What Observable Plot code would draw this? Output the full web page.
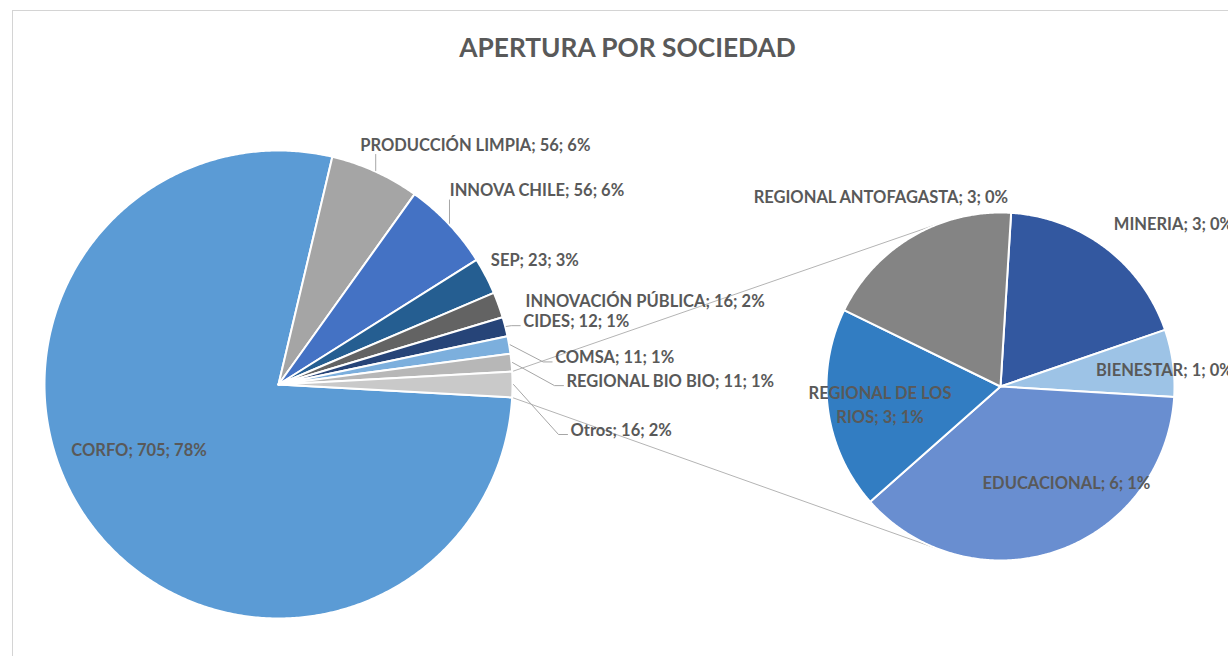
<!DOCTYPE html>
<html>
<head>
<meta charset="utf-8">
<script src="https://cdn.jsdelivr.net/npm/d3@7"></script>
<script src="https://cdn.jsdelivr.net/npm/@observablehq/plot@0.6"></script>
<style>
  html, body { margin: 0; padding: 0; background: #fff; overflow: hidden; width: 1228px; height: 656px; }
  #frame { position: absolute; left: 12px; top: 10px; width: 1400px; height: 800px;
           border-top: 1px solid #d4d4d4; border-left: 1px solid #d4d4d4; }
  #title { position: absolute; left: 12px; width: 1231px; top: 30px; text-align: center;
           font-family: Lato, "Open Sans", sans-serif; font-weight: bold; font-size: 26.3px;
           line-height: 34px; color: #595959; }
  #chart { position: absolute; left: 0; top: 80px; }
</style>
</head>
<body>
<div id="frame"></div>
<div id="title">APERTURA POR SOCIEDAD</div>
<div id="chart"></div>
<script>
// ---------- DATA ----------
const mainNames  = ["CORFO", "PRODUCCIÓN LIMPIA", "INNOVA CHILE", "SEP", "INNOVACIÓN PÚBLICA", "CIDES", "COMSA", "REGIONAL BIO BIO", "Otros"];
const mainValues = [705, 56, 56, 23, 16, 12, 11, 11, 16];
const mainPct    = [78, 6, 6, 3, 2, 1, 1, 1, 2];

const subNames  = ["MINERIA", "BIENESTAR", "EDUCACIONAL", "REGIONAL DE LOS RIOS", "REGIONAL ANTOFAGASTA"];
const subValues = [3, 1, 6, 3, 3];
const subPct    = [0, 0, 1, 1, 0];

// ---------- STYLES ----------
const mainColors = ["#5b9bd5", "#a5a5a5", "#4472c4", "#255e91", "#636363", "#264478", "#7cafdd", "#b7b7b7", "#c9c9c9"];
const subColors  = ["#3358a0", "#9dc3e6", "#698ed0", "#327dc2", "#848484"];

// ---------- LAYOUT ----------
const W = 1228, H = 576;
const MAIN = {cx: 278, cy: 304, r: 234};
const SUB  = {cx: 1000, cy: 306, r: 174, start: 3.5 * Math.PI / 180};

// label placement relative to slice mid-angle point (r = fraction of radius)
const mainLabelLayout = [
  {r: 0.6, dx: -27, dy: -18, anchor: "middle"},
  {r: 1, dx: -15, dy: -26, anchor: "start", leader: "v"},
  {r: 1, dx: 1, dy: -33, anchor: "start", leader: "v"},
  {r: 1, dx: 5, dy: -15, anchor: "start"},
  {r: 1, dx: 27, dy: -3, anchor: "start"},
  {r: 1, dx: 18, dy: -5, anchor: "start", leader: "h"},
  {r: 1, dx: 46, dy: 13, anchor: "start", leader: "h"},
  {r: 1, dx: 55, dy: 19, anchor: "start", leader: "h"},
  {r: 1, dx: 58, dy: 46, anchor: "start", leader: "h"}
];
const subLabelLayout = [
  {r: 1, dx: 8, dy: -23, anchor: "start"},
  {r: 1, dx: -77, dy: 8, anchor: "start"},
  {r: 0.6, dx: 32, dy: -1, anchor: "middle"},
  {r: 0.6, dx: -17, dy: 3, anchor: "middle", wrap: true},
  {r: 1, dx: -32, dy: -38, anchor: "middle"}
];

// ---------- GEOMETRY (computed from data) ----------
const polar = (c, r, a) => [c.cx + r * Math.sin(a), c.cy - r * Math.cos(a)];
const mainTotal = d3.sum(mainValues);
const otrosShare = mainValues[mainValues.length - 1] / mainTotal;
const mainStart = Math.PI / 2 + Math.PI * otrosShare;
const mainArcs = d3.pie().sort(null).startAngle(mainStart).endAngle(mainStart + 2 * Math.PI)(mainValues);
const subArcs  = d3.pie().sort(null).startAngle(SUB.start).endAngle(SUB.start + 2 * Math.PI)(subValues);

function slicePolys(arcs, names, c) {
  const rows = [];
  arcs.forEach((a, i) => {
    rows.push({slice: names[i], x: c.cx, y: c.cy});
    const n = Math.max(2, Math.ceil((a.endAngle - a.startAngle) / (Math.PI / 360)));
    for (let k = 0; k <= n; k++) {
      const t = a.startAngle + (a.endAngle - a.startAngle) * k / n;
      const [x, y] = polar(c, c.r, t);
      rows.push({slice: names[i], x, y});
    }
  });
  return rows;
}
const sliceRows = [...slicePolys(mainArcs, mainNames, MAIN), ...slicePolys(subArcs, subNames, SUB)];

const labels = [], leaders = [];
function buildLabels(arcs, names, values, pcts, layout, c) {
  arcs.forEach((a, i) => {
    const L = layout[i];
    const mid = (a.startAngle + a.endAngle) / 2;
    const [ex, ey] = polar(c, c.r * L.r, mid);
    const lx = ex + L.dx, ly = ey + L.dy;
    const name = L.wrap ? names[i].replace(/ (\S+)$/, "\n$1") : names[i];
    labels.push({x: lx, y: ly, text: `${name}; ${values[i]}; ${pcts[i]}%`, anchor: L.anchor, wrap: !!L.wrap});
    if (L.leader) {
      const [sx, sy] = polar(c, c.r + 1, mid);
      const id = names[i];
      if (L.leader === "v") {
        leaders.push({id, x: sx, y: sy}, {id, x: sx, y: ly + 9});
      } else {
        leaders.push({id, x: sx, y: sy}, {id, x: lx - 12, y: ly + 4}, {id, x: lx - 3, y: ly + 4});
      }
    }
  });
}
buildLabels(mainArcs, mainNames, mainValues, mainPct, mainLabelLayout, MAIN);
buildLabels(subArcs, subNames, subValues, subPct, subLabelLayout, SUB);

// connector lines: tangents from the "Otros" wedge corners to the secondary pie
const otrosArc = mainArcs[mainArcs.length - 1];
function tangent(p, c, sign) {
  const dx = p[0] - c.cx, dy = p[1] - c.cy;
  const d = Math.hypot(dx, dy);
  const base = Math.atan2(dy, dx);
  const t = base + sign * Math.acos(c.r / d);
  return [c.cx + c.r * Math.cos(t), c.cy + c.r * Math.sin(t)];
}
const pTop = polar(MAIN, MAIN.r, otrosArc.startAngle);
const pBot = polar(MAIN, MAIN.r, otrosArc.endAngle);
const tTop = tangent(pTop, SUB, 1);
const tBot = tangent(pBot, SUB, -1);
const connectors = [
  {id: "top", x: pTop[0], y: pTop[1]}, {id: "top", x: tTop[0], y: tTop[1]},
  {id: "bot", x: pBot[0], y: pBot[1]}, {id: "bot", x: tBot[0], y: tBot[1]}
];

const textStyle = {fill: "#595959", fontSize: 16.5, fontWeight: "bold", fontFamily: "Lato, 'Open Sans', sans-serif"};

const chart = Plot.plot({
  width: W, height: H, margin: 0,
  x: {domain: [0, W], range: [0, W], axis: null},
  y: {domain: [0, H], range: [0, H], axis: null},
  color: {domain: [...mainNames, ...subNames], range: [...mainColors, ...subColors]},
  style: {overflow: "visible", background: "transparent"},
  marks: [
    Plot.line(connectors, {x: "x", y: "y", z: "id", stroke: "#b4b4b4", strokeWidth: 1}),
    Plot.line(sliceRows, {x: "x", y: "y", z: "slice", fill: "slice", stroke: "white", strokeWidth: 2, strokeLinejoin: "round", curve: "linear-closed"}),
    Plot.line(leaders, {x: "x", y: "y", z: "id", stroke: "#a6a6a6", strokeWidth: 1}),
    Plot.text(labels.filter(d => d.anchor === "start"), {x: "x", y: "y", text: "text", textAnchor: "start", ...textStyle}),
    Plot.text(labels.filter(d => d.anchor === "middle" && !d.wrap), {x: "x", y: "y", text: "text", textAnchor: "middle", ...textStyle}),
    Plot.text(labels.filter(d => d.wrap), {x: "x", y: "y", text: "text", textAnchor: "middle", lineHeight: 1.42, ...textStyle})
  ]
});
document.getElementById("chart").appendChild(chart);
</script>
</body>
</html>
